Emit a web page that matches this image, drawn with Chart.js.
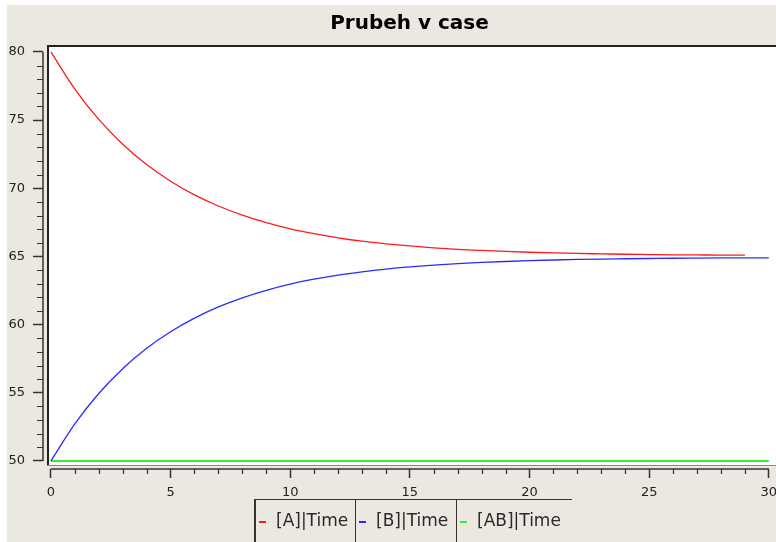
<!DOCTYPE html>
<html>
<head>
<meta charset="utf-8">
<script src="https://cdn.jsdelivr.net/npm/chart.js@4.4.1/dist/chart.umd.min.js"></script>
<style>
  html, body { margin: 0; padding: 0; background: #ffffff; }
  #wrap { position: relative; width: 776px; height: 542px; overflow: hidden; }
  #legend {
    position: absolute; left: 254px; top: 499px; height: 50px;
    display: flex; font-family: "DejaVu Sans", sans-serif; font-size: 17px; color: #2a2a2a;
    border-top: 1.5px solid #333;
  }
  .cell { position: relative; height: 50px; border-left: 1.5px solid #333; box-sizing: border-box; }
  .cell:first-child { border-left: 2px solid #333; }
  .mark { position: absolute; left: 3px; top: 21px; width: 7px; height: 1.5px; }
  .txt { position: absolute; left: 20px; top: 10px; white-space: nowrap; }
</style>
</head>
<body>
<div id="wrap">
  <canvas id="curveChart" width="776" height="542"></canvas>
  <div id="legend"></div>
</div>
<script>
const chartTitle = "Prubeh v case";
const seriesNames = ["[A]|Time", "[B]|Time", "[AB]|Time"];
const seriesColors = ["#ff1a1a", "#2a2aff", "#33ee33"];

// time points
const timeA = [0, 1, 2, 3, 4, 5, 6, 7, 8, 9, 10, 11, 12, 13, 14, 15, 16, 17, 18, 19, 20, 21, 22, 23, 24, 25, 26, 27, 28, 29];
const valuesA = [80, 77.28, 75.05, 73.23, 71.74, 70.52, 69.52, 68.70, 68.03, 67.48, 67.03, 66.67, 66.37, 66.12, 65.93, 65.77, 65.63, 65.52, 65.44, 65.37, 65.31, 65.26, 65.22, 65.19, 65.16, 65.14, 65.12, 65.11, 65.10, 65.10];

const timeB = [0, 1, 2, 3, 4, 5, 6, 7, 8, 9, 10, 11, 12, 13, 14, 15, 16, 17, 18, 19, 20, 21, 22, 23, 24, 25, 26, 27, 28, 29, 30];
const valuesB = [50, 52.72, 54.95, 56.77, 58.26, 59.48, 60.48, 61.30, 61.97, 62.52, 62.97, 63.33, 63.63, 63.87, 64.07, 64.23, 64.36, 64.47, 64.56, 64.63, 64.69, 64.74, 64.78, 64.81, 64.83, 64.85, 64.87, 64.88, 64.89, 64.90, 64.90];

const timeAB = [0, 5, 10, 15, 20, 25, 30];
const valuesAB = [50, 50, 50, 50, 50, 50, 50];

const xTicks = [0, 5, 10, 15, 20, 25, 30];
const yTicks = [50, 55, 60, 65, 70, 75, 80];
const xMinorTicks = [1, 2, 3, 4, 6, 7, 8, 9, 11, 12, 13, 14, 16, 17, 18, 19, 21, 22, 23, 24, 26, 27, 28, 29];
const yMinorTicks = [51, 52, 53, 54, 56, 57, 58, 59, 61, 62, 63, 64, 66, 67, 68, 69, 71, 72, 73, 74, 76, 77, 78, 79];

const bg = "#ebe8e2";
const axisColor = "#333333";

function pairs(xs, ys) {
    return xs.map((x, i) => ({ x: x, y: ys[i] }));
}

// background, framed canvas area, detached axes with minor ticks
const qwtLook = {
    id: "qwtLook",
    beforeDraw(chart) {
        const ctx = chart.ctx;
        const a = chart.chartArea;
        ctx.save();
        ctx.fillStyle = "#ffffff";
        ctx.fillRect(0, 0, chart.width, chart.height);
        ctx.fillStyle = bg;
        ctx.fillRect(7, 5, chart.width - 7, chart.height - 5);
        const left = a.left + 4, top = a.top, bottom = a.bottom - 4;
        ctx.fillStyle = "#ffffff";
        ctx.fillRect(left, top, chart.width - left, bottom - top);
        ctx.strokeStyle = "#8a8a8a";
        ctx.lineWidth = 1;
        ctx.beginPath();
        ctx.moveTo(left, bottom + 0.5);
        ctx.lineTo(chart.width, bottom + 0.5);
        ctx.stroke();
        ctx.strokeStyle = "#222222";
        ctx.lineWidth = 2;
        ctx.beginPath();
        ctx.moveTo(left + 1, bottom);
        ctx.lineTo(left + 1, top + 1);
        ctx.lineTo(chart.width, top + 1);
        ctx.stroke();
        ctx.restore();
    },
    afterDraw(chart) {
        const ctx = chart.ctx;
        const xs = chart.scales.x, ys = chart.scales.y;
        const a = chart.chartArea;
        ctx.save();
        ctx.strokeStyle = axisColor;
        ctx.lineWidth = 1.5;
        ctx.beginPath();
        ctx.moveTo(xs.getPixelForValue(0), a.bottom);
        ctx.lineTo(xs.getPixelForValue(30), a.bottom);
        ctx.moveTo(a.left, ys.getPixelForValue(50));
        ctx.lineTo(a.left, ys.getPixelForValue(80));
        ctx.stroke();
        ctx.lineWidth = 1.2;
        ctx.beginPath();
        xMinorTicks.forEach(v => {
            const px = Math.round(xs.getPixelForValue(v)) + 0.5;
            ctx.moveTo(px, a.bottom);
            ctx.lineTo(px, a.bottom + 5);
        });
        yMinorTicks.forEach(v => {
            const py = Math.round(ys.getPixelForValue(v)) + 0.5;
            ctx.moveTo(a.left, py);
            ctx.lineTo(a.left - 6, py);
        });
        ctx.stroke();
        ctx.restore();
    }
};

const tickFont = { family: "DejaVu Sans", size: 13 };

new Chart(document.getElementById("curveChart").getContext("2d"), {
    type: "line",
    data: {
        datasets: [
            { label: seriesNames[0], data: pairs(timeA, valuesA), borderColor: seriesColors[0], borderWidth: 1.3, cubicInterpolationMode: "monotone" },
            { label: seriesNames[1], data: pairs(timeB, valuesB), borderColor: seriesColors[1], borderWidth: 1.3, cubicInterpolationMode: "monotone" },
            { label: seriesNames[2], data: pairs(timeAB, valuesAB), borderColor: seriesColors[2], borderWidth: 2 }
        ]
    },
    options: {
        responsive: false,
        animation: false,
        devicePixelRatio: 1,
        layout: { padding: 0 },
        elements: { point: { radius: 0 } },
        plugins: {
            legend: { display: false },
            tooltip: { enabled: false },
            title: {
                display: true,
                text: chartTitle,
                fullSize: false,
                color: "#000000",
                font: { family: "DejaVu Sans", size: 20, weight: "bold" },
                padding: { top: 12, bottom: 9 }
            }
        },
        scales: {
            x: {
                type: "linear",
                min: -0.33,
                max: 30.3,
                afterBuildTicks: s => { s.ticks = xTicks.map(v => ({ value: v })); },
                afterFit: s => { s.height = 73; s.paddingLeft = 0; s.paddingRight = 0; },
                border: { display: false },
                grid: { drawOnChartArea: false, drawTicks: true, tickLength: 9, tickColor: axisColor, tickWidth: 1.5 },
                ticks: { font: tickFont, color: "#222222", padding: 7, maxRotation: 0, autoSkip: false }
            },
            y: {
                type: "linear",
                min: 49.41,
                max: 80.51,
                afterBuildTicks: s => { s.ticks = yTicks.map(v => ({ value: v })); },
                afterFit: s => { s.width = 43; s.paddingTop = 0; s.paddingBottom = 0; },
                border: { display: false },
                grid: { drawOnChartArea: false, drawTicks: true, tickLength: 10, tickColor: axisColor, tickWidth: 1.5 },
                ticks: { font: tickFont, color: "#222222", padding: 8 }
            }
        }
    },
    plugins: [qwtLook]
});

// legend row under the plot, Qwt style
const legendWidths = [101, 101, 116];
const legend = document.getElementById("legend");
seriesNames.forEach((name, i) => {
    const cell = document.createElement("div");
    cell.className = "cell";
    cell.style.width = legendWidths[i] + "px";
    const mark = document.createElement("div");
    mark.className = "mark";
    mark.style.background = seriesColors[i];
    const txt = document.createElement("div");
    txt.className = "txt";
    txt.textContent = name;
    cell.appendChild(mark);
    cell.appendChild(txt);
    legend.appendChild(cell);
});
</script>
</body>
</html>
